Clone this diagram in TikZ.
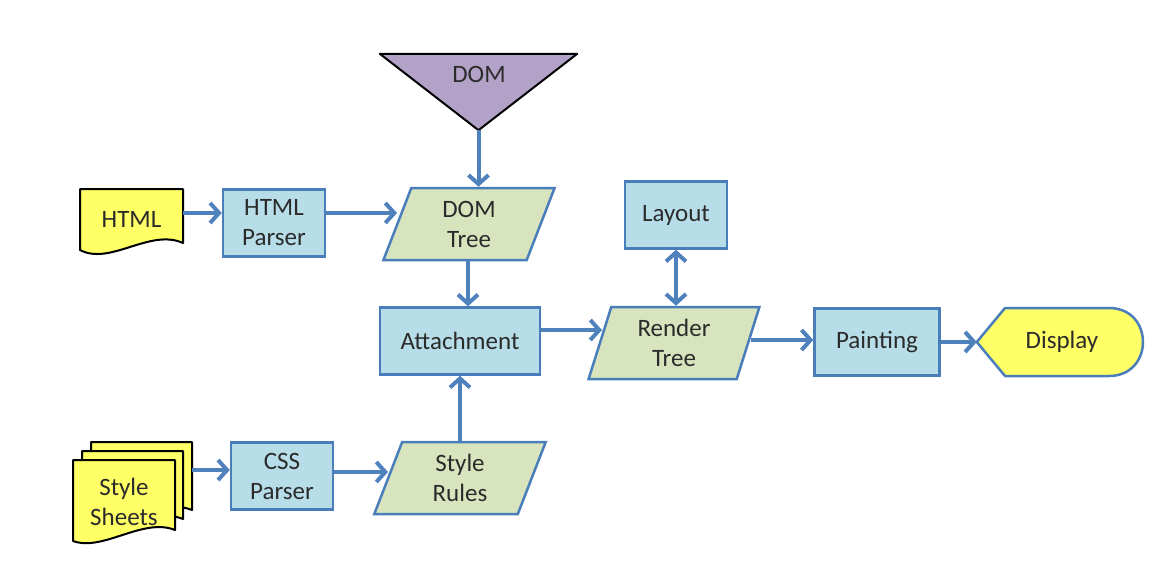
\documentclass[tikz,border=0pt]{standalone}
\usepackage{fontspec}
\setmainfont{Carlito}
\usetikzlibrary{shapes.geometric,arrows.meta,calc}
\definecolor{arrblue}{HTML}{4F81BD}
\definecolor{bordblue}{HTML}{4A7EBB}
\definecolor{boxfill}{HTML}{B7DDE8}
\definecolor{parafill}{HTML}{D7E4BD}
\definecolor{docyel}{HTML}{FFFF66}
\definecolor{purp}{HTML}{B3A2C7}
\definecolor{txt}{HTML}{2B2B2B}
\begin{document}
\begin{tikzpicture}[x=1pt,y=-1pt,
  font=\fontsize{25}{30}\selectfont,
  every node/.style={text=txt},
  box/.style={draw=bordblue, line width=2.5pt, fill=boxfill, minimum width=102pt, minimum height=67pt, align=center, inner sep=0pt},
  para/.style={trapezium, trapezium left angle=74.5, trapezium right angle=105.5, trapezium stretches=true, draw=bordblue, line width=2.5pt, fill=parafill, minimum width=172pt, minimum height=72pt, align=center, inner sep=0pt},
  docshape/.style={draw=black, line width=2pt, fill=docyel, line join=round},
  label/.style={inner sep=0pt, align=center},
  arr/.style={draw=arrblue, line width=4pt, -{Straight Barb[length=9pt,width=20pt]}},
  darr/.style={draw=arrblue, line width=4pt, {Straight Barb[length=9pt,width=20pt]}-{Straight Barb[length=9pt,width=20pt]}}]
\useasboundingbox (0,0) rectangle (1171,579);

% DOM triangle
\node[inner sep=0pt, minimum width=197pt, minimum height=76pt] (dom) at (478.5,92) {};
\draw[fill=purp, draw=black, line width=2pt, line join=round] (dom.north west) -- (dom.north east) -- (dom.south) -- cycle;
\node[label] (domlbl) at (479,74) {DOM};

% HTML document
\draw[docshape] (80,189) -- (183,189) -- (183,243) .. controls (150,228) and (110,266) .. (80,250) -- cycle;
\node[label, minimum width=103pt, minimum height=60pt] (html) at (131.5,219) {HTML};

% Style sheets stack
\draw[docshape] (91,442) -- (192,442) -- (192,510) .. controls (160,497) and (120,530) .. (91,520) -- cycle;
\draw[docshape] (82,451) -- (183,451) -- (183,519) .. controls (151,506) and (111,539) .. (82,529) -- cycle;
\draw[docshape] (73,460) -- (175,460) -- (175,530) .. controls (143,517) and (103,552) .. (73,541) -- cycle;
\node[label, minimum width=102pt, minimum height=70pt] (ss) at (124,502) {Style\\Sheets};
\coordinate (ssr) at (192,470);

% boxes
\node[box] (hp) at (274,223) {HTML\\Parser};
\node[para] (dt) at (469,224) {DOM\\Tree};
\node[box, minimum width=160pt] (att) at (460,341) {Attachment};
\node[box] (lay) at (676,215) {Layout};
\node[para] (rt) at (674,343) {Render\\Tree};
\node[box, minimum width=125pt] (pnt) at (877,342) {Painting};
\node[box] (css) at (282,476) {CSS\\Parser};
\node[para] (sr) at (460,478) {Style\\Rules};

% Display
\node[label, minimum width=166pt, minimum height=68pt] (disp) at (1060,342) {};
\draw[draw=bordblue, line width=2.5pt, fill=docyel, line join=round] (disp.west) -- (1005,308) -- (1109,308) .. controls (1154.3,308) and (1154.3,376) .. (1109,376) -- (1005,376) -- cycle;
\node[label] (displbl) at (1062,342) {Display};

% connectors
\draw[arr] (html.east |- 0,213) -- (hp.west |- 0,213);
\draw[arr] (hp.east |- 0,213) -- (397,213);
\draw[arr] (dom.south) -- (dom.south |- dt.north);
\draw[arr] (dt.south -| 468,0) -- (att.north -| 468,0);
\draw[arr] (att.east |- 0,330) -- (602,330);
\draw[arr] (sr.north -| 460,0) -- (att.south);
\draw[arr] (ssr) -- (css.west |- ssr);
\draw[arr] (css.east |- 0,472) -- (388,472);
\draw[darr] (lay.south) -- (lay.south |- rt.north);
\draw[arr] (751,340) -- (pnt.west |- 0,340);
\draw[arr] (pnt.east) -- (disp.west);
\end{tikzpicture}
\end{document}
